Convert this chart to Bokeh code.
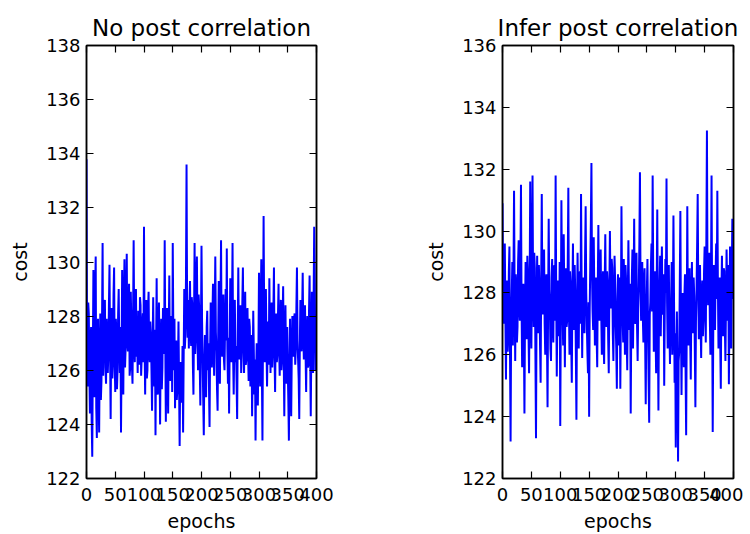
from bokeh.plotting import figure
from bokeh.layouts import row
from bokeh.models import LinearAxis, FixedTicker, Range1d
from bokeh.embed import file_html
from bokeh.resources import INLINE

cost_no_corr = [
    133.8, 126.2, 125.4, 128.5, 128.1, 125.9, 124.4, 127.0, 127.6, 124.1, 122.8, 126.4, 129.7, 126.8, 125.0, 128.9, 130.2, 124.6, 123.5, 127.3,
    127.9, 125.2, 123.7, 126.6, 128.1, 124.9, 125.6, 127.8, 130.7, 125.8, 126.9, 128.3, 128.6, 126.1, 125.5, 127.9, 127.2, 125.9, 126.6, 128.4,
    129.9, 126.7, 124.2, 127.5, 128.3, 125.7, 126.4, 128.8, 129.8, 126.3, 125.2, 127.9, 127.4, 125.3, 126.0, 128.1, 129.0, 126.9, 125.9, 127.6,
    123.7, 126.5, 129.7, 127.2, 125.1, 128.4, 130.1, 126.1, 126.8, 128.7, 130.3, 127.0, 126.7, 128.2, 129.2, 125.8, 126.1, 128.9, 127.7, 126.2,
    125.5, 128.0, 130.8, 127.4, 126.3, 128.6, 129.0, 126.5, 127.4, 125.9, 128.2, 127.1, 126.2, 128.7, 128.4, 125.8, 126.5, 127.7, 128.1, 126.3,
    131.3, 127.0, 125.1, 127.6, 128.6, 125.7, 126.0, 128.2, 128.9, 126.6, 126.3, 127.8, 127.3, 126.0, 124.5, 126.9, 128.7, 126.4, 125.4, 127.5,
    123.6, 126.8, 129.4, 126.2, 125.1, 127.4, 128.5, 126.5, 124.0, 126.7, 127.9, 125.3, 126.1, 128.3, 127.2, 126.6, 130.8, 127.1, 124.1, 126.9,
    128.3, 125.8, 124.4, 127.3, 129.5, 126.4, 125.6, 128.0, 127.8, 125.2, 130.7, 127.4, 126.0, 127.9, 124.6, 126.8, 127.1, 124.9, 125.3, 126.2,
    127.8, 125.4, 123.2, 126.0, 126.3, 124.8, 125.0, 126.9, 123.7, 126.5, 129.0, 126.8, 127.3, 129.4, 133.6, 128.1, 127.2, 128.6, 126.8, 128.3,
    129.3, 127.5, 126.9, 128.7, 128.4, 126.2, 125.1, 127.9, 130.7, 126.6, 127.2, 129.5, 130.2, 127.3, 126.0, 128.8, 128.3, 126.1, 124.7, 127.4,
    130.6, 127.8, 126.4, 124.9, 123.6, 126.2, 127.3, 125.6, 125.0, 127.6, 128.2, 126.0, 127.0, 125.4, 123.9, 126.8, 128.5, 127.2, 126.1, 128.0,
    129.2, 126.9, 125.8, 128.1, 130.2, 127.4, 126.7, 125.3, 124.5, 127.2, 129.3, 126.6, 125.5, 128.4, 130.8, 127.0, 126.5, 127.9, 128.8, 126.4,
    126.0, 127.6, 129.0, 127.1, 130.5, 126.8, 125.5, 127.2, 124.4, 126.9, 129.4, 127.5, 126.3, 128.2, 130.7, 126.5, 125.1, 127.0, 128.6, 126.3,
    126.9, 125.6, 124.2, 127.3, 129.8, 127.0, 126.4, 128.0, 128.4, 125.9, 126.7, 128.5, 129.8, 127.2, 125.9, 127.4, 128.9, 126.2, 126.4, 128.1,
    128.3, 126.6, 125.6, 127.9, 127.6, 125.4, 126.2, 127.3, 124.3, 126.1, 128.2, 126.7, 125.1, 126.4, 123.4, 125.9, 127.0, 125.6, 124.7, 126.8,
    129.6, 127.1, 125.4, 128.3, 130.1, 126.0, 123.4, 127.6, 131.7, 127.9, 126.3, 128.1, 129.0, 126.9, 125.4, 127.0, 127.8, 126.2, 129.4, 127.3,
    125.9, 127.7, 128.5, 126.1, 126.7, 128.2, 129.8, 126.6, 125.2, 127.4, 128.1, 126.3, 126.6, 128.0, 129.2, 126.8, 125.8, 127.5, 128.6, 126.0,
    126.4, 127.8, 129.1, 126.5, 124.3, 126.9, 128.4, 126.2, 125.5, 127.6, 126.1, 124.9, 123.4, 126.3, 127.9, 125.8, 124.3, 126.6, 128.0, 126.7,
    126.5, 127.9, 128.1, 126.2, 126.8, 128.3, 129.8, 127.1, 126.4, 125.7, 124.2, 126.9, 128.6, 127.0, 126.7, 128.1, 129.6, 127.4, 126.4, 127.8,
    128.4, 126.6, 125.2, 127.3, 128.0, 126.1, 126.2, 128.2, 129.5, 126.5, 124.3, 126.8, 128.9, 127.0, 125.9, 128.6, 131.3, 129.2, 126.0, 127.1,
]

cost_infer_corr = [
    130.9, 128.2, 127.0, 129.1, 129.6, 127.3, 125.2, 127.8, 128.4, 126.1, 126.6, 128.7, 129.5, 126.0, 123.2, 127.1, 127.9, 129.0, 126.3, 128.5,
    131.3, 127.9, 125.8, 128.6, 128.2, 126.4, 126.9, 129.0, 129.7, 127.5, 127.1, 128.8, 131.5, 127.6, 125.6, 128.0, 128.3, 126.7, 124.1, 127.4,
    129.0, 127.4, 126.5, 129.2, 128.6, 126.8, 125.4, 128.1, 131.6, 127.7, 126.2, 128.9, 131.8, 128.0, 126.9, 129.3, 128.8, 126.0, 123.3, 127.5,
    129.2, 127.8, 126.7, 128.9, 128.1, 126.3, 125.1, 128.4, 131.2, 127.9, 127.3, 129.1, 129.4, 127.0, 126.0, 128.3, 128.6, 126.5, 124.3, 127.7,
    130.4, 128.1, 127.6, 126.2, 125.8, 128.5, 129.1, 127.2, 126.4, 128.8, 128.9, 127.1, 131.8, 127.9, 125.3, 127.4, 128.4, 126.8, 126.6, 129.0,
    123.7, 127.2, 131.0, 128.4, 127.5, 126.3, 129.9, 127.8, 125.6, 128.2, 128.8, 126.9, 127.1, 129.0, 131.4, 127.6, 126.0, 128.7, 128.3, 126.4,
    125.1, 127.9, 129.6, 127.3, 126.8, 128.9, 128.0, 126.1, 123.9, 127.4, 129.3, 127.6, 126.2, 128.4, 128.7, 127.0, 131.2, 128.3, 125.9, 128.1,
    128.5, 126.9, 126.7, 129.2, 130.8, 128.0, 127.0, 126.1, 125.4, 127.7, 124.0, 127.5, 128.9, 130.3, 132.2, 128.6, 127.4, 126.8, 129.8, 127.9,
    126.3, 128.0, 128.5, 126.6, 125.6, 128.2, 130.2, 127.8, 127.1, 128.6, 129.4, 127.3, 126.0, 128.1, 128.7, 126.4, 125.7, 128.3, 129.9, 127.6,
    126.9, 128.7, 128.3, 126.5, 125.4, 128.0, 130.0, 127.9, 127.5, 129.1, 128.8, 126.7, 125.8, 127.6, 129.2, 128.4, 127.0, 126.2, 124.9, 127.8,
    128.6, 127.1, 126.3, 128.5, 124.9, 127.3, 130.8, 128.2, 127.2, 126.4, 129.1, 127.7, 126.0, 128.9, 128.4, 126.6, 125.5, 127.9, 129.7, 128.0,
    126.8, 128.3, 124.1, 127.0, 128.5, 129.4, 126.2, 128.1, 130.4, 127.6, 127.0, 128.8, 129.3, 126.9, 125.8, 127.5, 128.2, 129.6, 131.9, 128.4,
    127.1, 128.6, 129.0, 127.2, 126.4, 128.3, 128.8, 126.5, 124.4, 127.0, 128.1, 129.1, 126.9, 125.2, 123.8, 127.3, 127.7, 128.9, 129.6, 127.4,
    131.8, 128.5, 126.1, 127.9, 128.7, 126.8, 125.4, 128.2, 130.7, 127.1, 124.2, 127.6, 128.3, 129.2, 126.6, 128.0, 129.5, 127.3, 127.4, 128.6,
    125.0, 127.5, 129.1, 128.0, 131.7, 127.7, 126.2, 128.4, 128.9, 126.9, 125.7, 127.2, 127.8, 129.0, 126.0, 127.4, 130.5, 127.8, 125.1, 126.7,
    123.0, 126.0, 127.4, 125.3, 122.55, 125.8, 126.1, 128.3, 130.65, 126.9, 124.7, 127.2, 128.0, 126.4, 125.6, 127.9, 128.6, 125.5, 123.4, 126.8,
    130.8, 127.5, 126.3, 128.2, 128.8, 126.6, 125.2, 127.7, 129.0, 127.3, 126.7, 128.5, 127.9, 126.2, 124.3, 127.1, 128.1, 129.5, 131.2, 128.0,
    126.5, 128.1, 128.9, 127.0, 125.9, 127.8, 128.4, 126.6, 127.2, 128.7, 129.5, 127.4, 126.4, 129.8, 133.25, 128.5, 127.6, 128.9, 129.3, 127.2,
    126.0, 128.4, 131.8, 127.6, 123.5, 126.9, 128.9, 127.4, 126.8, 128.6, 129.6, 127.8, 131.3, 128.2, 126.2, 127.7, 128.5, 126.4, 124.9, 127.9,
    129.2, 127.5, 126.6, 128.8, 128.7, 126.9, 125.8, 127.6, 129.4, 128.3, 127.1, 128.9, 125.05, 127.4, 129.5, 128.1, 126.2, 128.6, 130.4, 127.8,
]

epochs = list(range(len(cost_no_corr)))

x_ticks = [0, 50, 100, 150, 200, 250, 300, 350, 400]
y_ticks_left = [122, 124, 126, 128, 130, 132, 134, 136, 138]
y_ticks_right = [122, 124, 126, 128, 130, 132, 134, 136]

FONT = "DejaVu Sans"


def style_axis(ax, show_labels):
    ax.axis_line_color = "black"
    ax.axis_line_width = 1.5
    ax.major_tick_in = 7
    ax.major_tick_out = 0
    ax.major_tick_line_width = 1.2
    ax.major_tick_line_color = "black"
    ax.minor_tick_line_color = None
    ax.major_label_text_font = FONT
    if show_labels:
        ax.major_label_text_color = "black"
        ax.major_label_text_font_size = "18px"
    else:
        ax.major_label_text_color = None
        ax.major_label_text_font_size = "1px"
        ax.major_label_standoff = 0
    ax.axis_label_text_font = FONT
    ax.axis_label_text_font_size = "19px"
    ax.axis_label_text_font_style = "normal"
    ax.axis_label_text_color = "black"


def make(title, ys, ylo, yhi, yticks, bl, fw, br):
    p = figure(
        frame_width=fw,
        frame_height=433,
        min_border_left=bl,
        min_border_right=br,
        min_border_top=45,
        min_border_bottom=56,
        x_range=Range1d(0, 400),
        y_range=Range1d(ylo, yhi),
        output_backend="svg",
        toolbar_location=None,
    )
    p.line(epochs, ys, line_color="#0000ff", line_width=2)
    p.grid.visible = False
    p.outline_line_color = "black"
    p.outline_line_width = 1.5
    p.background_fill_color = "white"
    p.border_fill_color = "white"

    p.title.text = title
    p.title.align = "center"
    p.title.text_font = FONT
    p.title.text_font_size = "23px"
    p.title.text_font_style = "normal"
    p.title.text_color = "black"
    p.title.standoff = 10

    p.xaxis.ticker = FixedTicker(ticks=x_ticks)
    p.yaxis.ticker = FixedTicker(ticks=yticks)
    p.xaxis.axis_label = "epochs"
    p.yaxis.axis_label = "cost"
    for ax in p.xaxis + p.yaxis:
        style_axis(ax, True)
    p.xaxis.major_label_standoff = 9
    p.yaxis.major_label_standoff = 6
    p.xaxis.axis_label_standoff = 6
    p.yaxis.axis_label_standoff = 12

    top = LinearAxis(ticker=FixedTicker(ticks=x_ticks))
    style_axis(top, False)
    p.add_layout(top, "above")
    right = LinearAxis(ticker=FixedTicker(ticks=yticks))
    style_axis(right, False)
    p.add_layout(right, "right")
    return p


p1 = make("No post correlation", cost_no_corr, 122, 138, y_ticks_left, 86, 230, 59)
p2 = make("Infer post correlation", cost_infer_corr, 122, 136, y_ticks_right, 127, 231, 10)

layout = row(p1, p2)
open("out.html", "w").write(file_html(layout, INLINE))
